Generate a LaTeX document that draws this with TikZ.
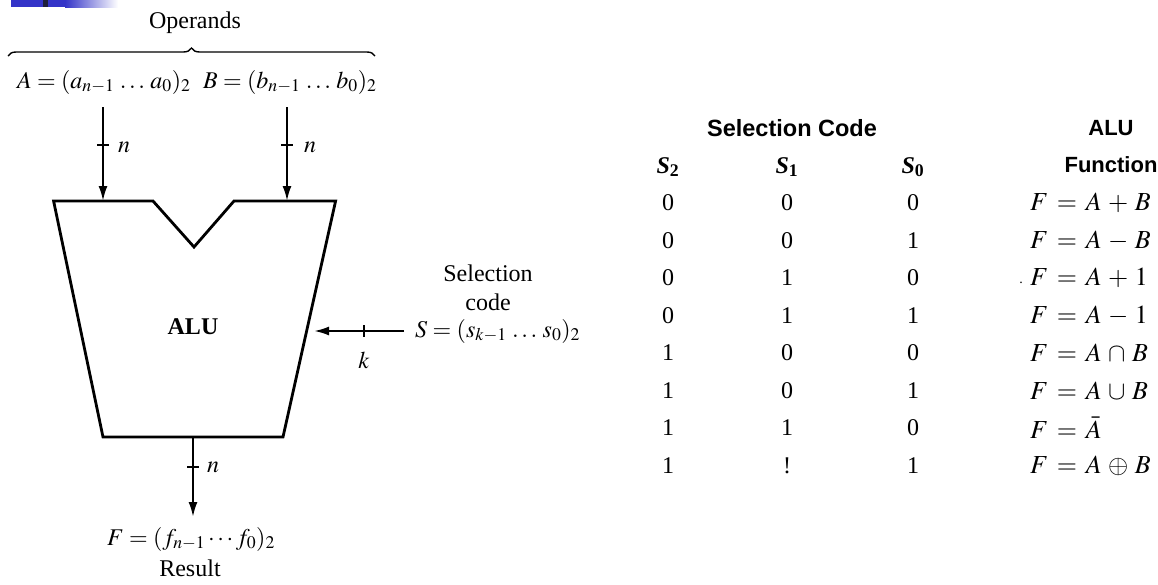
\documentclass[tikz,border=0pt]{standalone}
\usepackage{mathptmx}
\usepackage{fontspec}
\setmainfont{Liberation Serif}
\setsansfont{Liberation Sans}
\usetikzlibrary{arrows.meta,decorations.pathreplacing}
\definecolor{barblue}{RGB}{52,52,200}
\definecolor{bardark}{RGB}{30,30,60}
\newcommand{\hdrS}[1]{{\bfseries\itshape S}\textsubscript{\bfseries #1}}
\begin{document}
\begin{tikzpicture}[x=1pt,y=-1pt,
  lbl/.style={inner sep=0pt, font=\fontsize{24}{28}\selectfont},
  tbl/.style={inner sep=0pt, font=\fontsize{24}{28}\selectfont},
  fun/.style={inner sep=0pt, anchor=west, font=\fontsize{26}{28}\selectfont},
  hdr/.style={inner sep=0pt, font=\sffamily\bfseries\fontsize{22}{26}\selectfont},
  wire/.style={line width=2.2pt, -{Latex[length=15pt,width=9pt]}},
  tickmark/.style={line width=1.4pt},
  alushape/.style={line width=2.8pt, line join=miter}]
\useasboundingbox (0,0) rectangle (1158,584);
% slide decoration
\fill[barblue] (11,0) rectangle (65,7);
\shade[left color=barblue, right color=white] (65,0) rectangle (118,7);
\fill[bardark] (43,0) rectangle (48,7);
% operands
\node[lbl] (ops) at (195,23) {Operands};
\draw[decorate, decoration={brace, amplitude=8pt}, line width=1.4pt] (8,56) -- (375,56);
\node[lbl, anchor=west] (A) at (17,82) {$A = (a_{n-1}\,\ldots\,a_0)_2$};
\node[lbl, anchor=west] (B) at (203,82) {$B = (b_{n-1}\,\ldots\,b_0)_2$};
% ALU body
\coordinate (TL) at (53.6,201);
\coordinate (V1) at (153,201);
\coordinate (V2) at (194,247);
\coordinate (V3) at (234,201);
\coordinate (TR) at (335.6,201);
\coordinate (BR) at (283,437);
\coordinate (BL) at (103,437);
\draw[alushape] (TL) -- (V1) -- (V2) -- (V3) -- (TR) -- (BR) -- (BL) -- cycle;
\node[lbl, font=\bfseries\fontsize{24}{28}\selectfont] (alu) at (193,327) {ALU};
% input arrows
\coordinate (aS) at (103,107); \coordinate (aE) at (103,201);
\coordinate (bS) at (287,107); \coordinate (bE) at (287,201);
\draw[wire] (aS) -- (aE);
\draw[wire] (bS) -- (bE);
\draw[tickmark] (97,145) -- (109,145);
\draw[tickmark] (281,145) -- (293,145);
\node[lbl] (na) at (124,147) {$n$};
\node[lbl] (nb) at (310,147) {$n$};
% selection input
\node[lbl] (sel1) at (488,273) {Selection};
\node[lbl] (sel2) at (488,302) {code};
\node[lbl, anchor=west] (Sc) at (415,331) {$S = (s_{k-1}\,\ldots\,s_0)_2$};
\coordinate (sS) at (404,331); \coordinate (sE) at (314,331);
\draw[wire] (sS) -- (sE);
\draw[tickmark] (364,325) -- (364,337);
\node[lbl] (k) at (364,360) {$k$};
% output
\coordinate (oS) at (193,437); \coordinate (oE) at (193,517);
\draw[wire] (oS) -- (oE);
\draw[tickmark] (187,467) -- (199,467);
\node[lbl] (no) at (213,467) {$n$};
\node[lbl] (F) at (191,539) {$F = (f_{n-1} \cdots f_0)_2$};
\node[lbl] (res) at (190,568) {Result};
% table
\node[hdr, font=\sffamily\bfseries\fontsize{23.5}{27}\selectfont] (hsel) at (792,128) {Selection Code};
\node[hdr] (halu) at (1111,128) {ALU};
\node[hdr] (hfun) at (1111,165) {Function};
\node[tbl] (h2) at (668,167) {\hdrS{2}};
\node[tbl] (h1) at (787,167) {\hdrS{1}};
\node[tbl] (h0) at (913,167) {\hdrS{0}};
\foreach \i/\a/\b/\c/\f in {0/0/0/0/{F \,=\, A \,+\, B},1/0/0/1/{F \,=\, A \,-\, B},2/0/1/0/{F \,=\, A \,+\, 1},3/0/1/1/{F \,=\, A \,-\, 1},4/1/0/0/{F \,=\, A \,\cap\, B},5/1/0/1/{F \,=\, A \,\cup\, B},6/1/1/0/{F \,=\, \bar{A}},7/1/!/1/{F \,=\, A \,\oplus\, B}}{
  \node[tbl] (r\i a) at (668,203+37.5*\i) {\a};
  \node[tbl] (r\i b) at (787,203+37.5*\i) {\b};
  \node[tbl] (r\i c) at (913,203+37.5*\i) {\c};
  \node[fun] (r\i f) at (1030,203+37.5*\i) {$\f$};
}
\node[tbl, font=\fontsize{14}{16}\selectfont] (dot) at (1021,283) {.};
\end{tikzpicture}
\end{document}
